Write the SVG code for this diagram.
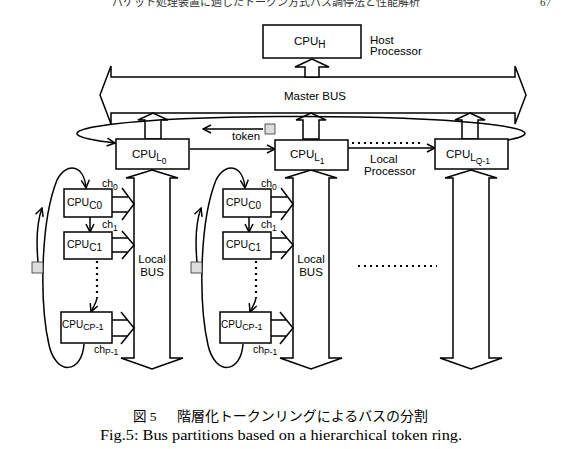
<svg xmlns="http://www.w3.org/2000/svg" width="562" height="449" viewBox="0 0 562 449">
<style>
.box{fill:#fff;stroke:#000;stroke-width:1.5}
.ln{fill:none;stroke:#000;stroke-width:1.5}
.dot{fill:none;stroke:#000;stroke-width:2.2;stroke-dasharray:2 4}
.t{font-family:"Liberation Sans",Arial,sans-serif;fill:#000}
.m{font-size:11.5px}
.s{font-size:10px}
.ss{font-size:8.5px}
.c{font-size:10.5px}
.tok{fill:#ddd;stroke:#333;stroke-width:0.8}
</style>
<defs>
<marker id="arr" viewBox="0 0 10 10" refX="9" refY="5" markerWidth="10" markerHeight="10" markerUnits="userSpaceOnUse" orient="auto">
<path d="M1,1 L9,5 L1,9" fill="none" stroke="#000" stroke-width="1.5"/>
</marker>
</defs>
<rect width="562" height="449" fill="#fff"/>
<text x="112" y="6" font-family="'Noto Sans CJK JP',sans-serif" font-size="11" fill="#333">パケット処理装置に適したトークン方式バス調停法と性能解析</text>
<text x="540" y="6" font-family="'Liberation Serif',serif" font-size="11" fill="#333">67</text>

<g id="master_bus">
<polygon class="box" points="100,95 111,66 111,77 515,77 515,66 526,95 515,124 515,113 111,113 111,124"/>
<text class="t m" x="315" y="100" text-anchor="middle">Master BUS</text>
</g>

<g id="cpu_h">
<rect class="box" x="263" y="25" width="98" height="33"/>
<text class="t m" x="294" y="45">CPU<tspan class="s" dy="3">H</tspan></text>
<text class="t m" x="370" y="44">Host</text>
<text class="t m" x="370" y="55">Processor</text>
</g>

<g id="local_bus_0">
<polygon class="box" points="152,170 178,178 170,178 170,358 183,358 152,369 121,358 134,358 134,178 126,178"/>
<text class="t m" x="152" y="263" text-anchor="middle">Local</text>
<text class="t m" x="152" y="276" text-anchor="middle">BUS</text>
</g>
<g id="local_bus_1">
<polygon class="box" points="311,170 337,178 329,178 329,358 342,358 311,369 280,358 293,358 293,178 285,178"/>
<text class="t m" x="311" y="263" text-anchor="middle">Local</text>
<text class="t m" x="311" y="276" text-anchor="middle">BUS</text>
</g>
<g id="local_bus_q">
<polygon class="box" points="471,170 497,178 489,178 489,358 502,358 471,369 440,358 453,358 453,178 445,178"/>
</g>

<g id="connectors">
<polygon class="box" points="305,77 305,67 295,67 312,59 329,67 319,67 319,77"/>
<polygon class="box" points="145,139 145,120 138,120 153,113 168,120 161,120 161,139"/>
<polygon class="box" points="303,139 303,120 296,120 311,113 326,120 319,120 319,139"/>
<polygon class="box" points="462,139 462,120 455,120 470,113 485,120 478,120 478,139"/>
<path class="ln" d="M508,140 A224,17 0 1 0 115,143" marker-end="url(#arr)"/>
<line class="ln" x1="263" y1="129" x2="203" y2="129" marker-end="url(#arr)"/>
<line class="ln" x1="190" y1="149" x2="275" y2="149" marker-end="url(#arr)"/>
<line class="dot" x1="352" y1="143" x2="420" y2="143"/>
<line class="ln" x1="348" y1="148" x2="435" y2="148" marker-end="url(#arr)"/>
<line class="dot" x1="358" y1="266" x2="437" y2="266"/>
<path class="ln" d="M112,197 H128 M112,212 H128 M122,188 L134,204 L122,220"/>
<path class="ln" d="M112,238 H128 M112,252 H128 M122,231 L134,245 L122,259"/>
<path class="ln" d="M112,320 H128 M112,336 H128 M121,312 L134,328 L121,344"/>
<line class="ln" x1="90" y1="217" x2="90" y2="232" marker-end="url(#arr)"/>
<line class="dot" x1="97" y1="261" x2="97" y2="298"/>
<path class="ln" d="M97,298 C96,304 93,307 91,312" marker-end="url(#arr)"/>
<path class="ln" d="M84,344 C82,374 56,376 49,345 C39,300 41,220 57,180 C66,162 84,164 86,188" marker-end="url(#arr)"/>
<path class="ln" d="M38,262 C36,240 37,222 42,208" marker-end="url(#arr)"/>
<g transform="translate(159,0)">
<path class="ln" d="M112,197 H128 M112,212 H128 M122,188 L134,204 L122,220"/>
<path class="ln" d="M112,238 H128 M112,252 H128 M122,231 L134,245 L122,259"/>
<path class="ln" d="M112,320 H128 M112,336 H128 M121,312 L134,328 L121,344"/>
<line class="ln" x1="90" y1="217" x2="90" y2="232" marker-end="url(#arr)"/>
<line class="dot" x1="97" y1="261" x2="97" y2="298"/>
<path class="ln" d="M97,298 C96,304 93,307 91,312" marker-end="url(#arr)"/>
<path class="ln" d="M84,344 C82,374 56,376 49,345 C39,300 41,220 57,180 C66,162 84,164 86,188" marker-end="url(#arr)"/>
<path class="ln" d="M38,262 C36,240 37,222 42,208" marker-end="url(#arr)"/>
</g>
</g>

<g id="token_0">
<rect class="tok" x="265" y="124" width="10" height="10"/>
<text class="t m" x="232" y="140">token</text>
</g>

<g id="cpu_l0">
<rect class="box" x="116" y="139" width="73" height="30"/>
<text class="t m" x="132" y="158">CPU<tspan class="s" dy="3">L</tspan><tspan class="ss" dy="2.5">0</tspan></text>
</g>
<g id="cpu_l1">
<rect class="box" x="275" y="140" width="73" height="30"/>
<text class="t m" x="290" y="158">CPU<tspan class="s" dy="3">L</tspan><tspan class="ss" dy="2.5">1</tspan></text>
</g>
<g id="cpu_lq1">
<rect class="box" x="435" y="139" width="73" height="30"/>
<text class="t m" x="446" y="158">CPU<tspan class="s" dy="3">L</tspan><tspan class="ss" dy="2.5">Q-1</tspan></text>
<text class="t m" x="370" y="163">Local</text>
<text class="t m" x="364" y="175">Processor</text>
</g>

<g id="cpu_c0_0">
<rect class="box" x="64" y="189" width="48" height="28"/>
<text class="t c" x="67" y="206">CPU<tspan class="s" dy="3">C0</tspan></text>
<text class="t c" x="102" y="187">ch<tspan class="ss" dy="3">0</tspan></text>
</g>
<g id="cpu_c1_0">
<rect class="box" x="64" y="232" width="48" height="27"/>
<text class="t c" x="67" y="248">CPU<tspan class="s" dy="3">C1</tspan></text>
<text class="t c" x="102" y="228">ch<tspan class="ss" dy="3">1</tspan></text>
</g>
<g id="cpu_cp_0">
<rect class="box" x="61" y="312" width="51" height="31"/>
<text class="t" x="62" y="328" font-size="10">CPU<tspan dy="2" font-size="9">CP-1</tspan></text>
<text class="t c" x="94" y="353">ch<tspan class="ss" dy="2">P-1</tspan></text>
</g>
<g id="token_c0">
<rect class="tok" x="32" y="262" width="11" height="11"/>
</g>

<g id="cpu_c0_1">
<rect class="box" x="223" y="189" width="48" height="28"/>
<text class="t c" x="226" y="206">CPU<tspan class="s" dy="3">C0</tspan></text>
<text class="t c" x="261" y="187">ch<tspan class="ss" dy="3">0</tspan></text>
</g>
<g id="cpu_c1_1">
<rect class="box" x="223" y="232" width="48" height="27"/>
<text class="t c" x="226" y="248">CPU<tspan class="s" dy="3">C1</tspan></text>
<text class="t c" x="261" y="228">ch<tspan class="ss" dy="3">1</tspan></text>
</g>
<g id="cpu_cp_1">
<rect class="box" x="220" y="312" width="51" height="31"/>
<text class="t" x="221" y="328" font-size="10">CPU<tspan dy="2" font-size="9">CP-1</tspan></text>
<text class="t c" x="253" y="353">ch<tspan class="ss" dy="2">P-1</tspan></text>
</g>
<g id="token_c1">
<rect class="tok" x="191" y="262" width="11" height="11"/>
</g>

<g id="caption">
<text font-family="'Liberation Serif','Noto Sans CJK JP',serif" font-size="13.5" fill="#000"><tspan x="133" y="421">図 5</tspan><tspan x="177" y="421" textLength="251" lengthAdjust="spacingAndGlyphs">階層化トークンリングによるバスの分割</tspan></text>
<text x="100" y="440" font-family="'Liberation Serif',serif" font-size="14" fill="#000" textLength="362" lengthAdjust="spacingAndGlyphs">Fig.5: Bus partitions based on a hierarchical token ring.</text>
</g>
</svg>
